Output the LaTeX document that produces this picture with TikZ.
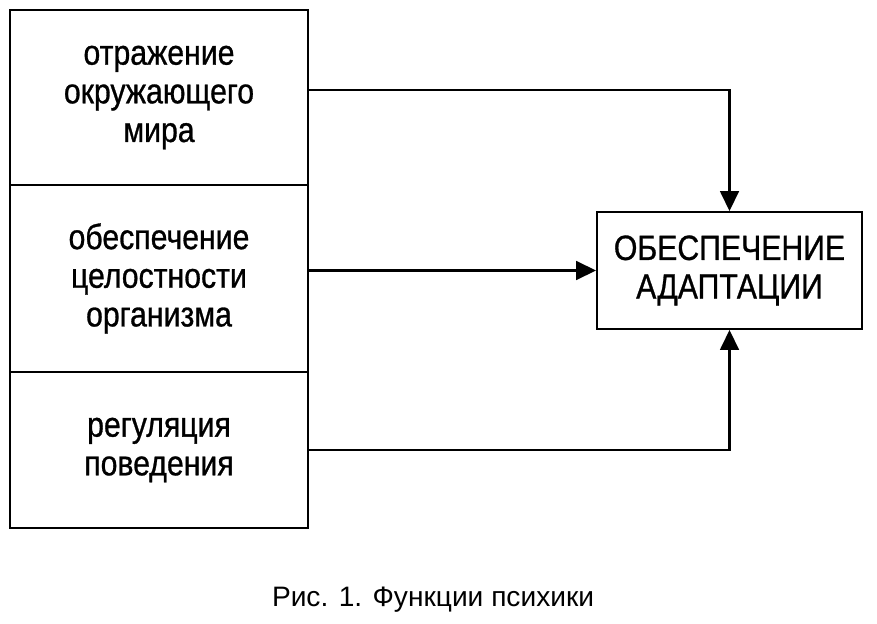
\documentclass[tikz,border=0pt]{standalone}
\usepackage{fontspec}
\setmainfont{Liberation Sans}
\newfontfamily\narrowfont[FakeStretch=0.86,FakeBold=0.8]{Liberation Sans}
\usetikzlibrary{arrows.meta}
\begin{document}
\begin{tikzpicture}[
  funcbox/.style={draw, line width=1.6pt, rectangle, align=center, inner sep=0pt,
    font=\narrowfont\fontsize{30}{33}\selectfont},
  arr/.style={line width=1.9pt, -{Triangle[length=17pt,width=16pt]}}]
\useasboundingbox (0,0) rectangle (26.31,18.69);

\node [funcbox, minimum width=8.94cm, minimum height=5.25cm] (refl) at (4.77,15.765)
  {отражение\\окружающего\\мира};
\node [funcbox, minimum width=8.94cm, minimum height=5.61cm] (integ) at (4.77,10.335)
  {обеспечение\\целостности\\организма};
\node [funcbox, minimum width=8.94cm, minimum height=4.68cm] (regul) at (4.77,5.19)
  {регуляция\\поведения};

\node [funcbox, minimum width=7.95cm, minimum height=3.51cm] (adapt) at (21.885,10.575)
  {ОБЕСПЕЧЕНИЕ\\АДАПТАЦИИ};

\draw[arr] ([yshift=2.2mm]refl.east) -| (adapt.north);
\draw[arr] (integ.east |- adapt.west) -- (adapt.west);
\draw[arr] (regul.east) -| (adapt.south);

\node [font=\fontsize{24}{28}\selectfont] (cap) at (12.99,0.69) {Рис. 1. Функции психики};

\end{tikzpicture}
\end{document}
